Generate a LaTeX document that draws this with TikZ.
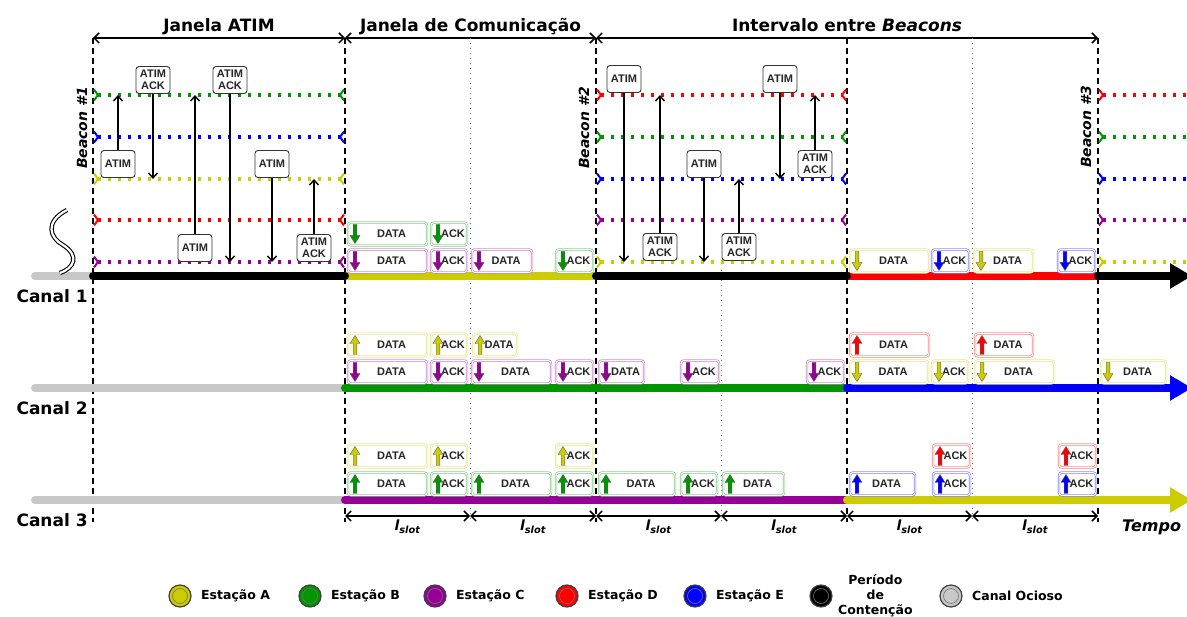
\documentclass[tikz,border=0pt]{standalone}
\usepackage{fontspec}
\setmainfont{DejaVu Sans}
\newfontfamily\pktfont{Liberation Sans}
\usetikzlibrary{arrows.meta,positioning}

\definecolor{stA}{RGB}{204,204,0}
\definecolor{stB}{RGB}{0,150,0}
\definecolor{stC}{RGB}{150,0,150}
\definecolor{stD}{RGB}{255,0,0}
\definecolor{stE}{RGB}{0,0,255}
\definecolor{idle}{RGB}{200,200,200}

\tikzset{
  pkt/.style={draw=#1!50, double=white, double distance=1pt, line width=0.7pt,
    rounded corners=3pt, minimum height=23pt, inner sep=0pt},
  pkttxt/.style={font=\pktfont\bfseries\fontsize{11}{12}\selectfont, inner sep=0pt, text=black!85},
  blkarr/.style={fill=#1, draw=black!65, line width=0.4pt},
  atim/.style={draw=black!80, fill=white, rounded corners=3pt, line width=0.9pt,
    align=center, inner sep=1pt, minimum width=34pt, minimum height=27pt,
    font=\pktfont\bfseries\fontsize{11}{11.5}\selectfont, text=black!85},
  msg/.style={line width=1.4pt, -{Straight Barb[length=5pt,width=9pt]}},
  stline/.style={draw=#1, line width=3.2pt, dash pattern=on 3.2pt off 6.8pt,
    {Straight Barb[reversed,length=4pt,width=11pt,line width=2pt]}-{Straight Barb[reversed,length=4pt,width=11pt,line width=2pt]}},
  stfree/.style={draw=#1, line width=3.2pt, dash pattern=on 3.2pt off 6.8pt,
    {Straight Barb[reversed,length=4pt,width=11pt,line width=2pt]}-},
  chan/.style={draw=#1, line width=8pt, line cap=round},
  beacon/.style={line width=1.5pt, dash pattern=on 6pt off 4pt},
  slotline/.style={draw=black!60, line width=1pt, dash pattern=on 1pt off 4pt},
  span/.style={line width=1.5pt, {Straight Barb[length=5pt,width=10pt]}-{Straight Barb[length=5pt,width=10pt]}},
  toplbl/.style={font=\bfseries\fontsize{17}{20}\selectfont},
  chanlbl/.style={font=\bfseries\fontsize{17}{20}\selectfont},
  bcnlbl/.style={rotate=90, font=\bfseries\itshape\fontsize{14}{16}\selectfont},
  slotlbl/.style={font=\bfseries\itshape\fontsize{14}{16}\selectfont},
  lgd/.style={circle, fill=#1, draw=black!75, line width=1.2pt, minimum size=22pt, inner sep=0pt},
  lgdtxt/.style={font=\bfseries\fontsize{12.5}{15}\selectfont},
}

% pacote: nome, x inicial, x final, y, cor, sentido (1 sobe, -1 desce), texto
\newcommand{\pkt}[7]{%
  \node[pkt=#5, minimum width={(#3-#2-2)*1pt}] (#1) at ({(#2+#3)/2},#4) {};
  \node[pkttxt] (#1t) at ({(#2+#3+8)/2},#4) {#7};
  \draw[blkarr=#5, shift={({#2+8},#4)}, yscale=#6]
    (-1.8,9.5) -- (-1.8,-1.5) -- (-5,-1.5) -- (0,-9.5) -- (5,-1.5) -- (1.8,-1.5) -- (1.8,9.5) -- cycle;
}

\begin{document}
\begin{tikzpicture}[x=1pt, y=-1pt]
    \useasboundingbox[fill=white] (0,0) rectangle (1187,617);

    % instantes
    \coordinate (t0) at (93,38);
    \coordinate (t1) at (345,38);
    \coordinate (t2) at (596,38);
    \coordinate (t3) at (847,38);
    \coordinate (t4) at (1098,38);
    \coordinate (u1) at (470,38);
    \coordinate (u2) at (721,270);
    \coordinate (u3) at (972,38);
    \coordinate (bot) at (0,522);
    \coordinate (slt) at (0,516);
    \coordinate (tend) at (1192,0);

    % linhas das estacoes
    \coordinate (lnA) at (0,95);
    \coordinate (lnB) at (0,137);
    \coordinate (lnC) at (0,179);
    \coordinate (lnD) at (0,220);
    \coordinate (lnE) at (0,262);

    % canais
    \coordinate (c1) at (35,276);
    \coordinate (c2) at (35,388);
    \coordinate (c3) at (35,500);

    \draw[span] (t0) -- (t1) node[pos=0.5, anchor=base, yshift=6pt, toplbl] (hdr1) {Janela ATIM};
    \draw[span] (t1) -- (t2) node[pos=0.5, anchor=base, yshift=6pt, toplbl] (hdr2) {Janela de Comunicação};
    \draw[span] (t2) -- (t4) node[pos=0.5, anchor=base, yshift=6pt, toplbl] (hdr3) {Intervalo entre \textit{Beacons}};

    \draw[beacon] (t0) -- (t0 |- bot);
    \draw[beacon] (t1) -- (t1 |- bot);
    \draw[beacon] (t2) -- (t2 |- bot);
    \draw[beacon] (t3) -- (t3 |- bot);
    \draw[beacon] (t4) -- (t4 |- bot);
    \draw[slotline] (u1) -- (u1 |- bot);
    \draw[slotline] (u2) -- (u2 |- bot);
    \draw[slotline] (u3) -- (u3 |- bot);

    \draw[stline=stB] (t0 |- lnA) -- (t1 |- lnA);
    \draw[stline=stE] (t0 |- lnB) -- (t1 |- lnB);
    \draw[stline=stA] (t0 |- lnC) -- (t1 |- lnC);
    \draw[stline=stD] (t0 |- lnD) -- (t1 |- lnD);
    \draw[stline=stC] (t0 |- lnE) -- (t1 |- lnE);

    \draw[stline=stD] (t2 |- lnA) -- (t3 |- lnA);
    \draw[stline=stB] (t2 |- lnB) -- (t3 |- lnB);
    \draw[stline=stE] (t2 |- lnC) -- (t3 |- lnC);
    \draw[stline=stC] (t2 |- lnD) -- (t3 |- lnD);
    \draw[stline=stA] (t2 |- lnE) -- (t3 |- lnE);

    \draw[stfree=stD] (t4 |- lnA) -- (tend |- lnA);
    \draw[stfree=stB] (t4 |- lnB) -- (tend |- lnB);
    \draw[stfree=stE] (t4 |- lnC) -- (tend |- lnC);
    \draw[stfree=stC] (t4 |- lnD) -- (tend |- lnD);
    \draw[stfree=stA] (t4 |- lnE) -- (tend |- lnE);

    % canal 1
    \draw[chan=idle] (c1) -- (t0 |- c1);
    \draw[chan=stA] (t1 |- c1) -- (t2 |- c1);
    \draw[chan=stD] (t3 |- c1) -- (t4 |- c1);
    \draw[chan=black] (t0 |- c1) -- (t1 |- c1);
    \draw[chan=black] (t2 |- c1) -- (t3 |- c1);
    \draw[chan=black, -{Triangle[length=22pt,width=24pt]}] (t4 |- c1) -- (tend |- c1);
    % canal 2
    \draw[chan=idle] (c2) -- (t1 |- c2);
    \draw[chan=stB] (t1 |- c2) -- (t3 |- c2);
    \draw[chan=stE, -{Triangle[length=22pt,width=24pt]}] (t3 |- c2) -- (tend |- c2);
    % canal 3
    \draw[chan=idle] (c3) -- (t1 |- c3);
    \draw[chan=stC] (t1 |- c3) -- (t3 |- c3);
    \draw[chan=stA, -{Triangle[length=22pt,width=24pt]}] (t3 |- c3) -- (tend |- c3);

    \node[chanlbl, anchor=base west] (ch1) at (13,303) {Canal 1};
    \node[chanlbl, anchor=base west] (ch2) at (13,415) {Canal 2};
    \node[chanlbl, anchor=base west] (ch3) at (13,527) {Canal 3};

    % quebra
    \draw[line width=1.1pt, double=white, double distance=2.2pt]
      (67,210) .. controls (44,222) and (50,238) .. (63,245)
      .. controls (80,256) and (74,268) .. (60,273);

    \node[bcnlbl] (bcn1) at (82,128) {Beacon \#1};
    \node[bcnlbl] (bcn2) at (584,128) {Beacon \#2};
    \node[bcnlbl] (bcn3) at (1086,127) {Beacon \#3};

    % janela ATIM
    \node[atim] (a1) at (118,164) {ATIM};
    \node[atim] (k1) at (153,80) {ATIM\\ACK};
    \node[atim] (a2) at (195,248) {ATIM};
    \node[atim] (k2) at (230,80) {ATIM\\ACK};
    \node[atim] (a3) at (272,164) {ATIM};
    \node[atim] (k3) at (314,248) {ATIM\\ACK};
    \draw[msg] (a1.north) -- (a1.north |- lnA);
    \draw[msg] (k1.south) -- (k1.south |- lnC);
    \draw[msg] (a2.north) -- (a2.north |- lnA);
    \draw[msg] (k2.south) -- (k2.south |- lnE);
    \draw[msg] (a3.south) -- (a3.south |- lnE);
    \draw[msg] (k3.north) -- (k3.north |- lnC);

    \node[atim] (a4) at (624,79) {ATIM};
    \node[atim] (k4) at (660,247) {ATIM\\ACK};
    \node[atim] (a5) at (704,164) {ATIM};
    \node[atim] (k5) at (739,247) {ATIM\\ACK};
    \node[atim] (a6) at (780,79) {ATIM};
    \node[atim] (k6) at (815,164) {ATIM\\ACK};
    \draw[msg] (a4.south) -- (a4.south |- lnE);
    \draw[msg] (k4.north) -- (k4.north |- lnA);
    \draw[msg] (a5.south) -- (a5.south |- lnE);
    \draw[msg] (k5.north) -- (k5.north |- lnC);
    \draw[msg] (a6.south) -- (a6.south |- lnC);
    \draw[msg] (k6.north) -- (k6.north |- lnA);

    % canal 1
    \pkt{pa1}{347}{428}{234}{stB}{-1}{DATA}
    \pkt{pa2}{430}{468}{234}{stB}{-1}{ACK}
    \pkt{pa3}{347}{428}{261}{stC}{-1}{DATA}
    \pkt{pa4}{430}{468}{261}{stC}{-1}{ACK}
    \pkt{pa5}{471}{533}{261}{stC}{-1}{DATA}
    \pkt{pa6}{555}{594}{261}{stB}{-1}{ACK}
    \pkt{pa7}{849}{930}{261}{stA}{-1}{DATA}
    \pkt{pa8}{931}{970}{261}{stE}{-1}{ACK}
    \pkt{pa9}{973}{1034}{261}{stA}{-1}{DATA}
    \pkt{pa10}{1057}{1096}{261}{stE}{-1}{ACK}

    % canal 2
    \pkt{pb1}{347}{428}{345}{stA}{1}{DATA}
    \pkt{pb2}{430}{468}{345}{stA}{1}{ACK}
    \pkt{pb3}{472}{518}{345}{stA}{1}{DATA}
    \pkt{pb4}{849}{930}{345}{stD}{1}{DATA}
    \pkt{pb5}{974}{1034}{345}{stD}{1}{DATA}
    \pkt{pb6}{347}{428}{372}{stC}{-1}{DATA}
    \pkt{pb7}{430}{468}{372}{stC}{-1}{ACK}
    \pkt{pb8}{471}{552}{372}{stC}{-1}{DATA}
    \pkt{pb9}{555}{594}{372}{stC}{-1}{ACK}
    \pkt{pb10}{598}{645}{372}{stC}{-1}{DATA}
    \pkt{pb11}{680}{720}{372}{stC}{-1}{ACK}
    \pkt{pb12}{806}{845}{372}{stC}{-1}{ACK}
    \pkt{pb13}{849}{929}{372}{stA}{-1}{DATA}
    \pkt{pb14}{931}{969}{372}{stA}{-1}{ACK}
    \pkt{pb15}{974}{1055}{372}{stA}{-1}{DATA}
    \pkt{pb16}{1100}{1167}{372}{stA}{-1}{DATA}

    % canal 3
    \pkt{pc1}{347}{428}{456}{stA}{1}{DATA}
    \pkt{pc2}{430}{468}{456}{stA}{1}{ACK}
    \pkt{pc3}{555}{594}{456}{stA}{1}{ACK}
    \pkt{pc4}{932}{971}{456}{stD}{1}{ACK}
    \pkt{pc5}{1058}{1097}{456}{stD}{1}{ACK}
    \pkt{pc6}{347}{428}{484}{stB}{1}{DATA}
    \pkt{pc7}{430}{468}{484}{stB}{1}{ACK}
    \pkt{pc8}{471}{552}{484}{stB}{1}{DATA}
    \pkt{pc9}{555}{594}{484}{stB}{1}{ACK}
    \pkt{pc10}{598}{676}{484}{stB}{1}{DATA}
    \pkt{pc11}{680}{718}{484}{stB}{1}{ACK}
    \pkt{pc12}{722}{785}{484}{stB}{1}{DATA}
    \pkt{pc13}{849}{916}{484}{stE}{1}{DATA}
    \pkt{pc14}{932}{971}{484}{stE}{1}{ACK}
    \pkt{pc15}{1058}{1097}{484}{stE}{1}{ACK}

    % slots
    \draw[span] (t1 |- slt) -- (u1 |- slt) node[pos=0.5, anchor=north, slotlbl] (sl1) {l\textsubscript{slot}};
    \draw[span] (u1 |- slt) -- (t2 |- slt) node[pos=0.5, anchor=north, slotlbl] (sl2) {l\textsubscript{slot}};
    \draw[span] (t2 |- slt) -- (u2 |- slt) node[pos=0.5, anchor=north, slotlbl] (sl3) {l\textsubscript{slot}};
    \draw[span] (u2 |- slt) -- (t3 |- slt) node[pos=0.5, anchor=north, slotlbl] (sl4) {l\textsubscript{slot}};
    \draw[span] (t3 |- slt) -- (u3 |- slt) node[pos=0.5, anchor=north, slotlbl] (sl5) {l\textsubscript{slot}};
    \draw[span] (u3 |- slt) -- (t4 |- slt) node[pos=0.5, anchor=north, slotlbl] (sl6) {l\textsubscript{slot}};

    \node[font=\bfseries\itshape\fontsize{16}{20}\selectfont, anchor=base west, inner sep=0pt] (tempo) at (1122,532) {Tempo};

    % legenda
    \node[lgd=stA] (lgA) at (180,596) {};
    \node[lgd=stB] (lgB) at (310,596) {};
    \node[lgd=stC] (lgC) at (435,596) {};
    \node[lgd=stD] (lgD) at (567,596) {};
    \node[lgd=stE] (lgE) at (695,596) {};
    \node[lgd=black] (lgF) at (821,596) {};
    \node[lgd=idle] (lgG) at (951,596) {};
    \draw[black!55, line width=0.6pt] (lgA.center) circle[radius=7.5pt];
    \draw[black!55, line width=0.6pt] (lgB.center) circle[radius=7.5pt];
    \draw[black!55, line width=0.6pt] (lgC.center) circle[radius=7.5pt];
    \draw[black!55, line width=0.6pt] (lgD.center) circle[radius=7.5pt];
    \draw[black!55, line width=0.6pt] (lgE.center) circle[radius=7.5pt];
    \draw[black!55, line width=0.6pt] (lgF.center) circle[radius=7.5pt];
    \draw[black!55, line width=0.6pt] (lgG.center) circle[radius=7.5pt];
    \node[lgdtxt, right=6pt of lgA] (lgAt) {Estação A};
    \node[lgdtxt, right=6pt of lgB] (lgBt) {Estação B};
    \node[lgdtxt, right=6pt of lgC] (lgCt) {Estação C};
    \node[lgdtxt, right=6pt of lgD] (lgDt) {Estação D};
    \node[lgdtxt, right=6pt of lgE] (lgEt) {Estação E};
    \node[lgdtxt, align=center, right=2pt of lgF] (lgFt) {Período\\de\\Contenção};
    \node[lgdtxt, right=6pt of lgG] (lgGt) {Canal Ocioso};

\end{tikzpicture}
\end{document}
